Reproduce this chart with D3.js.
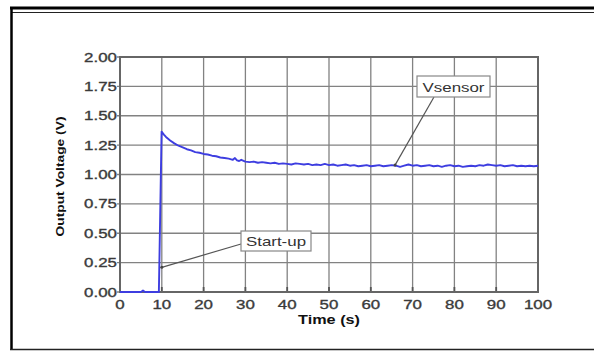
<!DOCTYPE html>
<meta charset="utf-8">
<script src="https://d3js.org/d3.v7.min.js"></script>
<style>
  body { margin: 0; background: #fff; }
  text { font-family: "Liberation Sans", Arial, sans-serif; }
</style>
<div id="my_dataviz"></div>
<script>

// data
var time = [0, 1, 2, 3, 4, 5, 5.5, 6, 6.5, 7, 8, 9, 9.3, 9.95, 10.5, 11, 12, 13, 14, 15, 16, 17, 18, 19, 20,
  21, 22, 23, 24, 25, 26, 27, 27.5, 28, 28.5, 29, 30, 31, 32, 33, 34, 35, 36, 37, 38, 39, 40,
  41, 42, 43, 44, 45, 46, 47, 48, 49, 50, 51, 52, 53, 54, 55, 56, 57, 58, 59, 60,
  61, 62, 63, 64, 65, 66, 67, 68, 69, 70, 71, 72, 73, 74, 75, 76, 77, 78, 79, 80,
  81, 82, 83, 84, 85, 86, 87, 88, 89, 90, 91, 92, 93, 94, 95, 96, 97, 98, 99, 100];
var vsensor = [0, 0, 0, 0, 0, 0, 0.012, 0, 0, 0, 0, 0, 0, 1.365, 1.34, 1.32, 1.29, 1.265, 1.245, 1.23, 1.215, 1.205, 1.19, 1.185, 1.175,
  1.17, 1.16, 1.155, 1.145, 1.14, 1.135, 1.125, 1.14, 1.12, 1.115, 1.125, 1.11, 1.105, 1.11, 1.10, 1.105, 1.10, 1.095, 1.10, 1.09, 1.095, 1.09,
  1.085, 1.095, 1.09, 1.085, 1.09, 1.08, 1.085, 1.08, 1.09, 1.08, 1.085, 1.075, 1.08, 1.085, 1.075, 1.08, 1.07, 1.075, 1.08, 1.07,
  1.075, 1.08, 1.07, 1.075, 1.08, 1.075, 1.065, 1.075, 1.085, 1.075, 1.08, 1.07, 1.075, 1.08, 1.07, 1.075, 1.065, 1.075, 1.08, 1.07,
  1.075, 1.065, 1.07, 1.075, 1.07, 1.08, 1.075, 1.085, 1.08, 1.075, 1.08, 1.07, 1.075, 1.08, 1.07, 1.075, 1.07, 1.075, 1.07, 1.075];
var xTicks = [0, 10, 20, 30, 40, 50, 60, 70, 80, 90, 100];
var yTicks = [0, 0.25, 0.5, 0.75, 1.0, 1.25, 1.5, 1.75, 2.0];

var width = 594, height = 351;
var stretch = 1.3; // the picture is squeezed wide

var svg = d3.select("#my_dataviz")
  .append("svg")
  .attr("width", width)
  .attr("height", height);

// frame
svg.append("line").attr("x1", 10).attr("x2", width).attr("y1", 8).attr("y2", 8)
  .attr("stroke", "#000").attr("stroke-width", 3);
svg.append("line").attr("x1", 12).attr("x2", width).attr("y1", 12.5).attr("y2", 12.5)
  .attr("stroke", "#222").attr("stroke-width", 1.2);
svg.append("line").attr("x1", 11.5).attr("x2", 11.5).attr("y1", 7).attr("y2", 350)
  .attr("stroke", "#000").attr("stroke-width", 2.5);
svg.append("line").attr("x1", 10).attr("x2", width).attr("y1", 349.5).attr("y2", 349.5)
  .attr("stroke", "#222").attr("stroke-width", 1.5);

var x = d3.scaleLinear().domain([0, 100]).range([120, 538]);
var y = d3.scaleLinear().domain([0, 2]).range([292, 57]);

// grid
svg.selectAll(".vgrid")
  .data(xTicks)
  .enter()
  .append("line")
  .attr("x1", function(d) { return x(d); })
  .attr("x2", function(d) { return x(d); })
  .attr("y1", y(2)).attr("y2", y(0))
  .attr("stroke", "#828282").attr("stroke-width", 1.3);
svg.selectAll(".hgrid")
  .data(yTicks)
  .enter()
  .append("line")
  .attr("x1", x(0) - 3).attr("x2", x(100))
  .attr("y1", function(d) { return y(d); })
  .attr("y2", function(d) { return y(d); })
  .attr("stroke", "#828282").attr("stroke-width", 1.3);

// small ticks along the bottom
svg.selectAll(".btick")
  .data(xTicks)
  .enter()
  .append("line")
  .attr("x1", function(d) { return x(d); })
  .attr("x2", function(d) { return x(d); })
  .attr("y1", y(0) - 5).attr("y2", y(0))
  .attr("stroke", "#555").attr("stroke-width", 1.8);

// plot border
svg.append("rect")
  .attr("x", x(0)).attr("y", y(2))
  .attr("width", x(100) - x(0)).attr("height", y(0) - y(2))
  .attr("fill", "none").attr("stroke", "#666").attr("stroke-width", 2);

// tick labels
svg.selectAll(".ylab")
  .data(yTicks)
  .enter()
  .append("text")
  .attr("transform", function(d) { return "translate(" + (x(0) - 3) + "," + (y(d) + 4.5) + ") scale(" + stretch + ",1)"; })
  .attr("text-anchor", "end")
  .attr("font-size", 13)
  .attr("fill", "#3a3a3a")
  .attr("stroke", "#3a3a3a").attr("stroke-width", 0.35)
  .text(function(d) { return d3.format(".2f")(d); });

svg.selectAll(".xlab")
  .data(xTicks)
  .enter()
  .append("text")
  .attr("transform", function(d) { return "translate(" + x(d) + "," + 308.5 + ") scale(" + stretch + ",1)"; })
  .attr("text-anchor", "middle")
  .attr("font-size", 13)
  .attr("fill", "#3a3a3a")
  .attr("stroke", "#3a3a3a").attr("stroke-width", 0.35)
  .text(function(d) { return d; });

// axis titles
svg.append("text")
  .attr("transform", "translate(" + ((x(0) + x(100)) / 2) + ",323.5) scale(" + stretch + ",1)")
  .attr("text-anchor", "middle")
  .attr("font-size", 12.5)
  .attr("font-weight", "bold")
  .attr("fill", "#111")
  .text("Time (s)");
svg.append("text")
  .attr("transform", "translate(63.5," + ((y(0) + y(2)) / 2 + 2) + ") rotate(-90) scale(1.2,1)")
  .attr("text-anchor", "middle")
  .attr("font-size", 11.5)
  .attr("font-weight", "bold")
  .attr("fill", "#111")
  .text("Output Voltage (V)");

// the curve
var line = d3.line()
  .x(function(d, i) { return x(time[i]); })
  .y(function(d) { return y(d); });
svg.append("path")
  .datum(vsensor)
  .attr("d", line)
  .attr("fill", "none")
  .attr("stroke", "#3d3de0")
  .attr("stroke-width", 1.9)
  .attr("stroke-linejoin", "round");

// annotations
var notes = [
  {label: "Vsensor", bx: 417, by: 76, bw: 73, bh: 21, lx: 434, ly: 97, t: 65.8, v: 1.08},
  {label: "Start-up", bx: 241, by: 231, bw: 70, bh: 20, lx: 241, ly: 244, t: 10, v: 0.21}
];
notes.forEach(function(n) {
  svg.append("line")
    .attr("x1", n.lx).attr("y1", n.ly)
    .attr("x2", x(n.t)).attr("y2", y(n.v))
    .attr("stroke", "#555").attr("stroke-width", 1.2);
  svg.append("circle")
    .attr("cx", x(n.t)).attr("cy", y(n.v)).attr("r", 1.5)
    .attr("fill", "#444");
  svg.append("rect")
    .attr("x", n.bx).attr("y", n.by)
    .attr("width", n.bw).attr("height", n.bh)
    .attr("fill", "#fff").attr("stroke", "#888").attr("stroke-width", 1.2);
  svg.append("text")
    .attr("transform", "translate(" + (n.bx + n.bw / 2) + "," + (n.by + n.bh / 2 + 5) + ") scale(" + stretch + ",1)")
    .attr("text-anchor", "middle")
    .attr("font-size", 13)
    .attr("fill", "#333")
    .text(n.label);
});

</script>
